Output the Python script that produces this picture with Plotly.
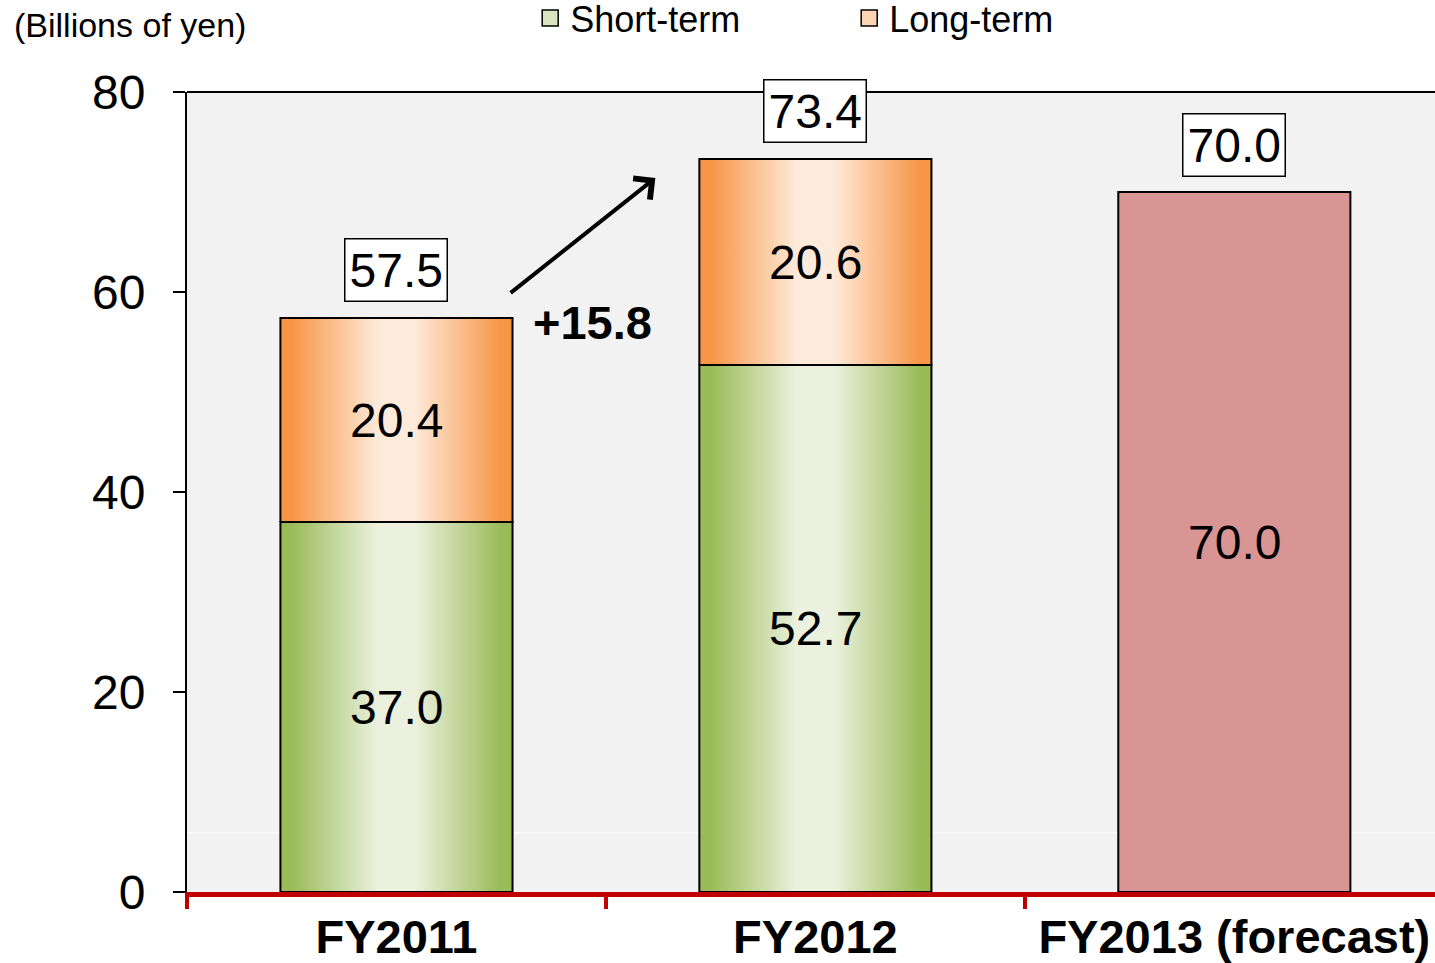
import plotly.graph_objects as go

# Data (billions of yen)
categories = ["FY2011", "FY2012", "FY2013 (forecast)"]
short_term = [37.0, 52.7]
long_term = [20.4, 20.6]
forecast_total = [70.0]
totals = [57.5, 73.4, 70.0]
increase_label = "+15.8"
y_tick_values = [0, 20, 40, 60, 80]

FONT = "Liberation Sans, Arial, sans-serif"
GREEN_EDGE, GREEN_MID = "#9bbb59", "#ebf1de"
ORANGE_EDGE, ORANGE_MID = "#f79646", "#fdeada"
PINK = "#d99594"
HALF_WIDTH = 0.277


def gradient(edge, mid):
    return [[0.0, edge], [0.05, edge], [0.42, mid], [0.58, mid], [0.95, edge], [1.0, edge]]


def bar_segment(x, base, value, edge=None, mid=None, solid=None):
    x0, x1 = x - HALF_WIDTH, x + HALF_WIDTH
    y0, y1 = base, base + value
    kw = dict(
        x=[x0, x1, x1, x0, x0],
        y=[y0, y0, y1, y1, y0],
        mode="lines",
        fill="toself",
        line=dict(color="black", width=2),
        showlegend=False,
        hoverinfo="skip",
    )
    if solid:
        kw["fillcolor"] = solid
    else:
        kw["fillcolor"] = mid
        kw["fillgradient"] = dict(type="horizontal", colorscale=gradient(edge, mid))
    return go.Scatter(**kw)


fig = go.Figure()
annotations = []
label_font = dict(size=48, color="black", family=FONT)

# Stacked actual bars
for i, (s, l) in enumerate(zip(short_term, long_term)):
    fig.add_trace(bar_segment(i, 0, s, GREEN_EDGE, GREEN_MID))
    fig.add_trace(bar_segment(i, s, l, ORANGE_EDGE, ORANGE_MID))
    annotations.append(dict(x=i, y=s / 2, text=f"{s:.1f}", showarrow=False, font=label_font))
    annotations.append(dict(x=i, y=s + l / 2, text=f"{l:.1f}", showarrow=False, font=label_font))

# Forecast bar
fx = len(short_term)
fig.add_trace(bar_segment(fx, 0, forecast_total[0], solid=PINK))
annotations.append(dict(x=fx, y=forecast_total[0] / 2, text=f"{forecast_total[0]:.1f}",
                        showarrow=False, font=label_font))

# Boxed totals above bars
for i, t in enumerate(totals):
    annotations.append(dict(x=i, y=t, text=f"{t:.1f}", showarrow=False, yanchor="bottom",
                            yshift=15, bgcolor="white", bordercolor="black", borderwidth=1.5,
                            borderpad=4, font=label_font))

# Growth arrow and label
annotations.append(dict(x=0.618, y=71.4, ax=0.269, ay=59.8, xref="x", yref="y",
                        axref="x", ayref="y", text="", showarrow=True, arrowhead=4,
                        arrowsize=1.3, arrowwidth=4, arrowcolor="black"))
annotations.append(dict(x=0.469, y=57.0, text=increase_label, showarrow=False,
                        font=dict(size=47, color="black", family=FONT, weight="bold")))

# Unit label
annotations.append(dict(x=-0.1402, y=1.084, xref="paper", yref="paper", xanchor="left",
                        yanchor="middle", text="(Billions of yen)", showarrow=False,
                        font=dict(size=34, color="black", family=FONT)))

# Legend entries
fig.add_trace(go.Scatter(x=[None], y=[None], mode="markers", name="Short-term",
                         marker=dict(symbol="square", size=18, color="#d7e4bd",
                                     line=dict(color="black", width=1.5))))
fig.add_trace(go.Scatter(x=[None], y=[None], mode="markers", name="Long-term",
                         marker=dict(symbol="square", size=18, color="#fbd4b4",
                                     line=dict(color="black", width=1.5))))

shapes = [
    # top frame line
    dict(type="line", xref="paper", yref="paper", x0=0, x1=1, y0=1, y1=1,
         line=dict(color="black", width=2)),
    # faint white rule near the base
    dict(type="line", xref="paper", yref="y", x0=0, x1=1, y0=5.9, y1=5.9,
         line=dict(color="white", width=1), layer="below"),
]

fig.update_layout(
    width=1435,
    height=963,
    margin=dict(l=187, r=0, t=92, b=71, autoexpand=False),
    paper_bgcolor="white",
    plot_bgcolor="#f2f2f2",
    font=dict(family=FONT, color="black"),
    showlegend=True,
    legend=dict(orientation="h", x=0.275, xanchor="left", y=1.13, yanchor="top",
                font=dict(size=36, family=FONT, color="black"), bgcolor="rgba(0,0,0,0)",
                entrywidth=274, entrywidthmode="pixels", itemclick=False),
    annotations=annotations,
    shapes=shapes,
    xaxis=dict(
        range=[-0.5, 2.479],
        tickmode="array",
        tickvals=list(range(len(categories))),
        ticktext=categories,
        ticks="",
        tickfont=dict(size=47, family=FONT, color="black", weight="bold"),
        ticklabelstandoff=0,
        automargin=False,
        showgrid=False,
        zeroline=False,
        showline=True,
        linecolor="#c00000",
        linewidth=5,
        minor=dict(tickmode="array", tickvals=[-0.5, 0.5, 1.5], ticks="outside",
                   ticklen=12, tickwidth=4, tickcolor="#c00000", showgrid=False),
        fixedrange=True,
    ),
    yaxis=dict(
        range=[0, 80],
        tickmode="array",
        tickvals=y_tick_values,
        ticks="outside",
        ticklen=12,
        tickwidth=2,
        tickcolor="black",
        tickfont=dict(size=48, family=FONT, color="black"),
        ticklabelstandoff=18,
        automargin=False,
        showgrid=False,
        zeroline=False,
        showline=True,
        linecolor="black",
        linewidth=2,
        fixedrange=True,
    ),
)

fig.write_html("out.html")
